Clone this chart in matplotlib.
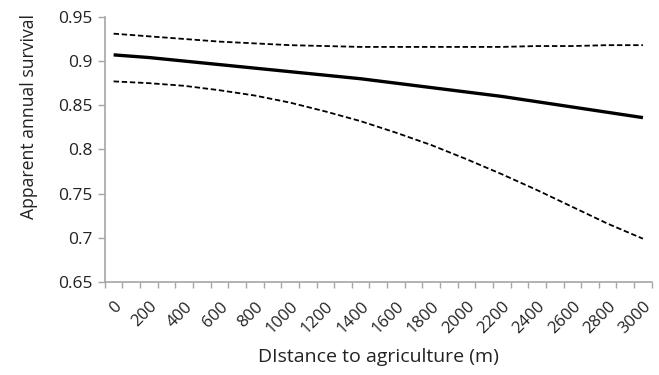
import matplotlib
matplotlib.use('Agg')
import matplotlib.pyplot as plt
import numpy as np

# Data ---------------------------------------------------
distance = [0, 200, 400, 600, 800, 1000, 1200, 1400, 1600, 1800,
            2000, 2200, 2400, 2600, 2800, 3000]
survival = [0.907, 0.904, 0.900, 0.896, 0.892, 0.888, 0.884, 0.880,
            0.875, 0.870, 0.865, 0.860, 0.854, 0.848, 0.842, 0.836]
upper_ci = [0.931, 0.928, 0.925, 0.922, 0.920, 0.918, 0.917, 0.916,
            0.916, 0.916, 0.916, 0.916, 0.917, 0.917, 0.918, 0.918]
lower_ci = [0.877, 0.875, 0.872, 0.867, 0.861, 0.853, 0.843, 0.832,
            0.819, 0.805, 0.789, 0.772, 0.754, 0.735, 0.716, 0.699]

y_ticks = [0.65, 0.7, 0.75, 0.8, 0.85, 0.9, 0.95]
y_labels = ['0.65', '0.7', '0.75', '0.8', '0.85', '0.9', '0.95']

plt.rcParams['font.family'] = ['Open Sans', 'DejaVu Sans']
grey = '#a6a6a6'
txt = '#222222'

fig = plt.figure(figsize=(6.59, 3.75), dpi=100)
ax = fig.add_axes([0.159, 0.248, 0.83, 0.707])

ax.plot(distance, survival, color='black', lw=2.4, solid_capstyle='butt')
ax.plot(distance, upper_ci, color='black', lw=1.3, dashes=(3, 1.5))
ax.plot(distance, lower_ci, color='black', lw=1.3, dashes=(3, 1.5))

ax.set_xlim(-50, 3050)
ax.set_ylim(0.65, 0.95)

ax.set_xticks(distance)
ax.set_xticklabels([str(d) for d in distance], rotation=45, ha='right',
                   va='top', rotation_mode='anchor', fontsize=12, color=txt)
ax.set_xticks(np.arange(-50, 3100, 100), minor=True)
ax.tick_params(axis='x', which='major', length=0, pad=12)
ax.tick_params(axis='x', which='minor', length=4, color=grey, width=1)

ax.set_yticks(y_ticks)
ax.set_yticklabels(y_labels, fontsize=12.5, color=txt)
ax.tick_params(axis='y', length=5, color=grey, width=1, pad=4)

for s in ['top', 'right']:
    ax.spines[s].set_visible(False)
for s in ['left', 'bottom']:
    ax.spines[s].set_color(grey)
    ax.spines[s].set_linewidth(1.2)

ax.set_ylabel('Apparent annual survival', fontsize=12.7, color=txt)
ax.yaxis.set_label_coords(-0.122, 0.626)
ax.set_xlabel('DIstance to agriculture (m)', fontsize=14, color=txt)
ax.xaxis.set_label_coords(0.5, -0.25)

fig.savefig('out.png', dpi=100)
